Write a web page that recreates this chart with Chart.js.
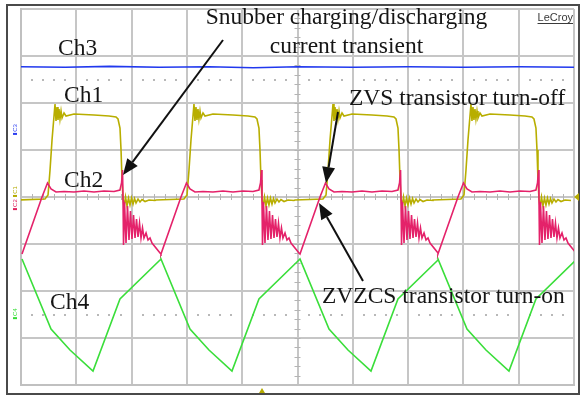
<!DOCTYPE html>
<html><head><meta charset="utf-8">
<script src="https://cdn.jsdelivr.net/npm/chart.js@4.4.1/dist/chart.umd.min.js"></script>
<style>html,body{margin:0;padding:0;background:#fff;overflow:hidden}canvas{display:block}</style>
</head><body>
<canvas id="scope" width="580" height="396"></canvas>
<script>
// Scope screen: 10 horizontal x 8 vertical divisions; every value below is in divisions.
const cycleStarts = [0.597, 3.110, 5.624, 8.119];   // Ch1 rising edge of each switching cycle

// One switching cycle per channel: [time after cycle start, level]
const ch1Cycle = [
  [-0.669,-0.064],[-0.163,-0.043],[-0.108,0.043],[-0.072,0.574],[-0.036,1.213],[0,1.723],
  [0.018,1.979],[0.036,1.617],[0.054,1.915],[0.072,1.638],[0.090,1.872],[0.108,1.660],
  [0.127,1.830],[0.145,1.681],[0.181,1.787],[0.217,1.723],[0.362,1.766],[0.723,1.745],
  [0.995,1.723],[1.121,1.702],[1.157,1.660],[1.193,1.468],[1.212,0.998],[1.230,0.362],
  [1.248,-0.043],[1.266,-0.213],[1.293,0],[1.320,-0.191],[1.347,-0.021],[1.374,-0.170],
  [1.401,-0.021],[1.429,-0.149],[1.456,-0.032],[1.483,-0.128],[1.519,-0.043],[1.555,-0.106],
  [1.591,-0.053],[1.646,-0.096],[1.718,-0.064],[1.826,-0.074]
];
const ch2Cycle = [
  [-0.579,-1.213],[-0.217,0],[-0.118,0.298],[-0.054,0.170],[0.036,0.106],[0.181,0.117],
  [0.362,0.106],[0.542,0.128],[0.723,0.106],[0.904,0.128],[1.085,0.117],[1.193,0.149],
  [1.221,0.298],[1.239,0.574],[1.248,-0.064],[1.257,-1.021],[1.275,-0.106],[1.302,-0.979],
  [1.329,-0.191],[1.356,-0.915],[1.383,-0.298],[1.410,-0.894],[1.438,-0.383],[1.465,-0.872],
  [1.492,-0.468],[1.519,-0.851],[1.546,-0.553],[1.573,-0.872],[1.600,-0.660],[1.627,-0.872],
  [1.664,-0.766],[1.700,-0.915],[1.736,-0.872],[1.772,-0.979],[1.917,-1.191]
];
const ch4Cycle = [
  [-0.579,-1.319],[-0.054,-2.809],[0.289,-3.255],[0.705,-3.702],[1.193,-2.170],[1.917,-1.340]
];
const ch3Trace = [
  [0,2.77],[0.8,2.76],[1.6,2.78],[2.5,2.76],[3.4,2.77],[4.2,2.75],
  [5.0,2.77],[6.0,2.76],[7.0,2.77],[8.0,2.76],[9.0,2.77],[10,2.76]
];

// Text annotations and call-out arrows (data units)
const notes = [
  { text: 'Snubber charging/discharging', x: 5.886, y: 3.681, align: 'center' },
  { text: 'current transient', x: 5.886, y: 3.064, align: 'center' },
  { text: 'Ch3', x: 0.669, y: 3.021 },
  { text: 'Ch1', x: 0.778, y: 2.021 },
  { text: 'Ch2', x: 0.778, y: 0.213 },
  { text: 'Ch4', x: 0.524, y: -2.383 },
  { text: 'ZVS transistor turn-off', x: 5.931, y: 1.957 },
  { text: 'ZVZCS transistor turn-on', x: 5.443, y: -2.255 }
];
const arrows = [
  { from: [3.653, 3.340], to: [1.844, 0.468] },
  { from: [5.732, 1.809], to: [5.515, 0.298] },
  { from: [6.184, -1.787], to: [5.389, -0.128] }
];
const channelMarks = [
  { text: 'C3', y: 1.47, color: '#2a3cf0' },
  { text: 'C1', y: 0.15, color: '#b4aa00' },
  { text: 'C2', y: -0.13, color: '#e0205c' },
  { text: 'C4', y: -2.45, color: '#33dd33' }
];

function expand(cycle) {
  const pts = [];
  cycleStarts.forEach(s => cycle.forEach(([dt, v]) => pts.push({ x: s + dt, y: v })));
  return pts;
}
const toPts = arr => arr.map(([x, y]) => ({ x, y }));

const X = (c, v) => c.scales.x.getPixelForValue(v);
const Y = (c, v) => c.scales.y.getPixelForValue(v);

const screenDecor = {
  id: 'screenDecor',
  beforeDraw(c) {
    const ctx = c.ctx, a = c.chartArea;
    ctx.save();
    ctx.fillStyle = '#fff';
    ctx.fillRect(0, 0, c.width, c.height);
    ctx.strokeStyle = '#4a4a4a';
    ctx.lineWidth = 2;
    ctx.strokeRect(a.left - 14, a.top - 4, a.right - a.left + 19, a.bottom - a.top + 13);
    ctx.restore();
  },
  beforeDatasetsDraw(c) {
    const ctx = c.ctx;
    ctx.save();
    ctx.strokeStyle = '#b4b4b4';
    ctx.lineWidth = 1;
    const xc = X(c, 5), yc = Y(c, 0);
    ctx.beginPath();
    for (let i = 1; i < 50; i++) {
      const x = Math.round(X(c, i * 0.2)) + 0.5;
      ctx.moveTo(x, yc - 3); ctx.lineTo(x, yc + 3);
    }
    for (let i = 1; i < 40; i++) {
      const y = Math.round(Y(c, -4 + i * 0.2)) + 0.5;
      ctx.moveTo(xc - 3, y); ctx.lineTo(xc + 3, y);
    }
    ctx.stroke();
    ctx.fillStyle = '#b8b8b8';
    [2.5, -2.5].forEach(v => {
      const y = Math.round(Y(c, v));
      for (let i = 1; i < 50; i++) {
        if (i % 5 === 0) continue;
        ctx.fillRect(Math.round(X(c, i * 0.2)) - 1, y - 1, 2, 2);
      }
    });
    ctx.restore();
  },
  afterDraw(c) {
    const ctx = c.ctx, a = c.chartArea;
    ctx.save();
    // annotations
    ctx.fillStyle = '#151515';
    ctx.font = '23.5px "Liberation Serif", "Times New Roman", serif';
    ctx.textBaseline = 'alphabetic';
    notes.forEach(n => {
      ctx.textAlign = n.align || 'left';
      ctx.fillText(n.text, X(c, n.x), Y(c, n.y));
    });
    // call-out arrows
    ctx.strokeStyle = '#111';
    ctx.fillStyle = '#111';
    ctx.lineWidth = 2;
    arrows.forEach(ar => {
      const x1 = X(c, ar.from[0]), y1 = Y(c, ar.from[1]);
      const x2 = X(c, ar.to[0]), y2 = Y(c, ar.to[1]);
      const ang = Math.atan2(y2 - y1, x2 - x1);
      const L = 16, W = 6.5;
      const bx = x2 - L * Math.cos(ang), by = y2 - L * Math.sin(ang);
      ctx.beginPath(); ctx.moveTo(x1, y1); ctx.lineTo(bx, by); ctx.stroke();
      ctx.beginPath();
      ctx.moveTo(x2, y2);
      ctx.lineTo(bx + W * Math.sin(ang), by - W * Math.cos(ang));
      ctx.lineTo(bx - W * Math.sin(ang), by + W * Math.cos(ang));
      ctx.closePath(); ctx.fill();
    });
    // LeCroy badge
    ctx.fillStyle = '#3a3a3a';
    ctx.font = '11px "Liberation Sans", Arial, sans-serif';
    ctx.textAlign = 'right';
    const lx = a.right - 1, ly = a.top + 12;
    ctx.fillText('LeCroy', lx, ly);
    const lw = ctx.measureText('LeCroy').width;
    ctx.fillRect(lx - lw, ly + 2, lw, 1);
    // channel offset markers at the left edge
    ctx.font = '6px "Liberation Sans", Arial, sans-serif';
    ctx.textAlign = 'center';
    channelMarks.forEach(m => {
      const y = Y(c, m.y);
      ctx.fillStyle = m.color;
      ctx.save();
      ctx.translate(a.left - 6, y);
      ctx.rotate(-Math.PI / 2);
      ctx.fillText(m.text, 0, 2);
      ctx.restore();
      ctx.fillRect(a.left - 8, y + 5, 4, 2);
    });
    // trigger markers
    ctx.fillStyle = '#b4aa00';
    const tx = X(c, 4.358);
    ctx.beginPath();
    ctx.moveTo(tx, a.bottom + 3); ctx.lineTo(tx - 3, a.bottom + 8); ctx.lineTo(tx + 3, a.bottom + 8);
    ctx.closePath(); ctx.fill();
    const ty = Y(c, 0);
    ctx.beginPath();
    ctx.moveTo(a.right, ty); ctx.lineTo(a.right + 5, ty - 4); ctx.lineTo(a.right + 5, ty + 4);
    ctx.closePath(); ctx.fill();
    ctx.restore();
  }
};

const trace = (label, data, color) => ({
  label, data, borderColor: color, backgroundColor: color,
  borderWidth: 1.6, pointRadius: 0, showLine: true, tension: 0, fill: false
});

new Chart(document.getElementById('scope'), {
  type: 'scatter',
  data: {
    datasets: [
      trace('Ch2', expand(ch2Cycle), '#e4226a'),
      trace('Ch1', expand(ch1Cycle), '#b8ae00'),
      trace('Ch3', toPts(ch3Trace), '#2038ee'),
      trace('Ch4', expand(ch4Cycle), '#3ade3a')
    ]
  },
  options: {
    responsive: false,
    animation: false,
    devicePixelRatio: 1,
    layout: { padding: { left: 21, top: 9, right: 6, bottom: 11 } },
    plugins: { legend: { display: false }, tooltip: { enabled: false } },
    scales: {
      x: {
        type: 'linear', min: 0, max: 10,
        ticks: { display: false, stepSize: 1 },
        grid: { color: '#c6c6c6', lineWidth: 2, drawTicks: false },
        border: { color: '#c0c0c0', width: 2 },
        afterFit: s => { s.height = 0; }
      },
      y: {
        type: 'linear', min: -4, max: 4,
        ticks: { display: false, stepSize: 1 },
        grid: { color: '#c6c6c6', lineWidth: 2, drawTicks: false },
        border: { color: '#c0c0c0', width: 2 },
        afterFit: s => { s.width = 0; }
      }
    }
  },
  plugins: [screenDecor]
});
</script>
</body></html>
